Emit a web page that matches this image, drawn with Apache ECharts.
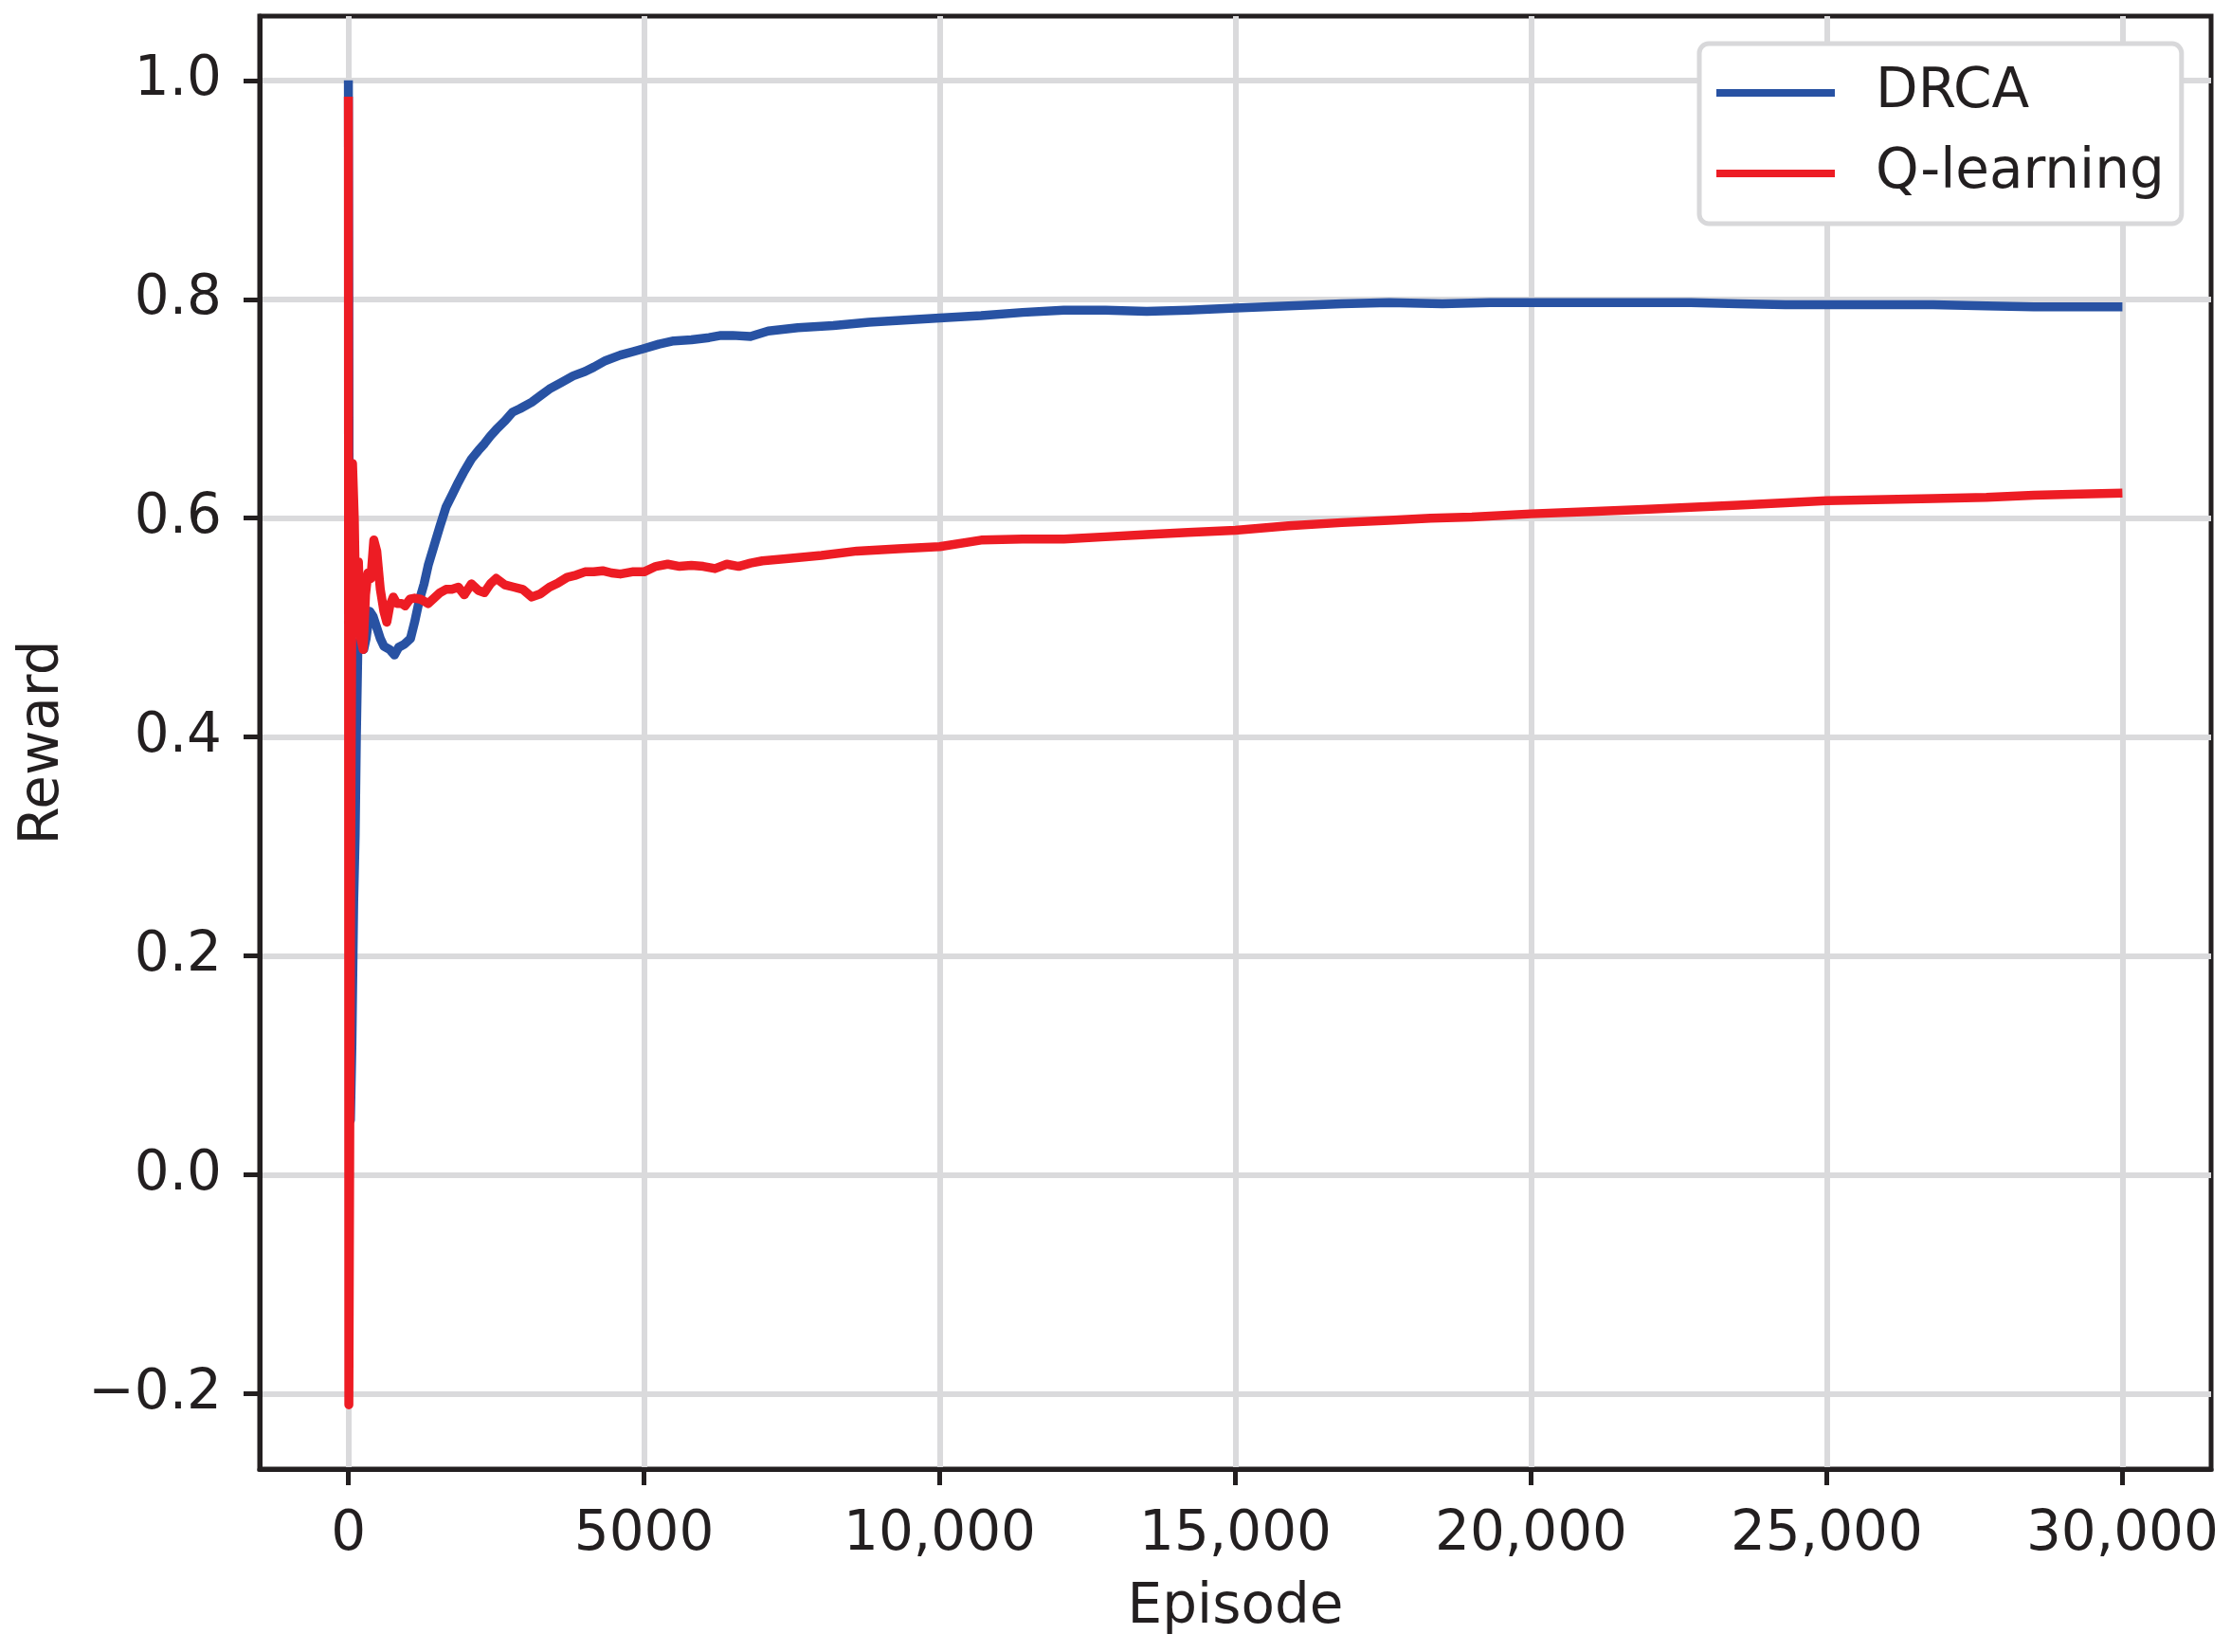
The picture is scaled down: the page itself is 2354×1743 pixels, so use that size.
<!DOCTYPE html>
<html>
<head>
<meta charset="utf-8">
<script src="https://cdn.jsdelivr.net/npm/echarts/dist/echarts.min.js"></script>
<style>
  html, body { margin: 0; padding: 0; background: #fff; }
  #chart { width: 2354px; height: 1743px; }
</style>
</head>
<body>
<div id="chart"></div>
<script>
  // DRCA curve
  var drcaEpisodes = [0, 15, 35, 60, 90, 115, 135, 160, 200, 260, 300, 360, 420, 480, 540, 600, 700, 780, 850, 950,
    1050, 1120, 1200, 1280, 1350, 1450, 1550, 1650, 1760, 1860, 1960, 2080, 2200, 2300, 2400, 2500, 2650, 2780, 2900,
    3100, 3250, 3400, 3600, 3800, 4000, 4150, 4350, 4600, 4800, 5000, 5250, 5500, 5800, 6100, 6300, 6500, 6800, 7100,
    7600, 8200, 8800, 9400, 10000, 10700, 11400, 12100, 12800, 13500, 14200, 15000, 15900, 16800, 17600, 18500, 19300,
    20000, 21000, 22000, 22700, 23500, 24300, 25000, 26000, 26800, 27700, 28500, 29300, 30000];
  var drcaReward = [1.0, 0.55, 0.05, 0.12, 0.25, 0.31, 0.40, 0.48, 0.49, 0.48, 0.49, 0.515, 0.51, 0.50, 0.49, 0.483, 0.48, 0.475, 0.482, 0.485,
    0.49, 0.505, 0.525, 0.54, 0.557, 0.575, 0.593, 0.61, 0.622, 0.633, 0.643, 0.654, 0.662, 0.668, 0.675, 0.681, 0.689, 0.697, 0.700,
    0.706, 0.712, 0.718, 0.724, 0.730, 0.734, 0.738, 0.744, 0.749, 0.752, 0.755, 0.759, 0.762, 0.763, 0.765, 0.767, 0.767, 0.766, 0.771,
    0.774, 0.776, 0.779, 0.781, 0.783, 0.785, 0.788, 0.790, 0.790, 0.789, 0.790, 0.792, 0.794, 0.796, 0.797, 0.796, 0.797,
    0.797, 0.797, 0.797, 0.797, 0.796, 0.795, 0.795, 0.795, 0.795, 0.794, 0.793, 0.793, 0.793];

  // Q-learning curve
  var qlEpisodes = [0, 8, 40, 70, 100, 130, 170, 210, 250, 290, 330, 380, 430, 480, 540, 600, 650, 700, 760, 820, 900, 960,
    1040, 1120, 1220, 1350, 1450, 1550, 1650, 1750, 1860, 1960, 2080, 2200, 2300, 2400, 2500, 2650, 2800, 2950, 3100, 3250,
    3400, 3550, 3700, 3850, 4000, 4150, 4300, 4450, 4600, 4800, 5000, 5200, 5400, 5600, 5800, 6000, 6200, 6400, 6600, 6800,
    7000, 7400, 8000, 8600, 9300, 10000, 10700, 11400, 12100, 12800, 13500, 14200, 15000, 15900, 16800, 17600, 18300, 19000,
    20000, 21000, 21900, 22700, 23500, 24300, 25000, 26000, 26800, 27700, 28500, 29300, 30000];
  var qlReward = [0.985, -0.21, 0.30, 0.65, 0.60, 0.50, 0.56, 0.49, 0.48, 0.53, 0.55, 0.545, 0.58, 0.57, 0.535, 0.515, 0.505, 0.52, 0.528, 0.522, 0.522, 0.52,
    0.526, 0.527, 0.526, 0.522, 0.527, 0.532, 0.535, 0.535, 0.537, 0.53, 0.54, 0.534, 0.532, 0.54, 0.545, 0.539, 0.537, 0.535, 0.528, 0.531,
    0.537, 0.541, 0.546, 0.548, 0.551, 0.551, 0.552, 0.55, 0.549, 0.551, 0.551, 0.556, 0.558, 0.556, 0.557, 0.556, 0.554, 0.558, 0.556, 0.559,
    0.561, 0.563, 0.566, 0.570, 0.572, 0.574, 0.580, 0.581, 0.581, 0.583, 0.585, 0.587, 0.589, 0.593, 0.596, 0.598, 0.600, 0.601,
    0.604, 0.606, 0.608, 0.610, 0.612, 0.614, 0.616, 0.617, 0.618, 0.619, 0.621, 0.622, 0.623];

  var xTicks = [0, 5000, 10000, 15000, 20000, 25000, 30000];
  var yTicks = [-0.2, 0, 0.2, 0.4, 0.6, 0.8, 1.0];

  function pairs(xs, ys) {
    var out = [];
    for (var i = 0; i < xs.length; i++) out.push([xs[i], ys[i]]);
    return out;
  }

  var ink = '#231f20';
  var gridColor = '#dadadc';
  var font = 'DejaVu Sans';

  var chart = echarts.init(document.getElementById('chart'), null, { renderer: 'canvas' });

  var option = {
    animation: false,
    backgroundColor: '#ffffff',
    textStyle: { fontFamily: font },
    grid: {
      left: 274, top: 17, right: 21, bottom: 193,
      show: true, borderColor: ink, borderWidth: 5, backgroundColor: 'transparent'
    },
    legend: {
      orient: 'vertical',
      left: 1793, top: 46,
      icon: 'rect',
      itemWidth: 125, itemHeight: 8,
      itemGap: 27,
      padding: [23, 18, 24, 18],
      borderColor: '#d8d8da', borderWidth: 5, borderRadius: 10,
      backgroundColor: '#ffffff',
      textStyle: { fontFamily: font, fontSize: 58, color: ink, padding: [0, 0, 0, 38] },
      data: ['DRCA', 'Q-learning']
    },
    xAxis: {
      type: 'value',
      min: -1500, max: 31500,
      name: 'Episode', nameLocation: 'middle', nameGap: 118,
      nameTextStyle: { fontFamily: font, fontSize: 58, color: ink },
      axisLine: { show: true, onZero: false, lineStyle: { color: ink, width: 5 } },
      axisTick: { show: true, length: 17, lineStyle: { color: ink, width: 5 }, customValues: xTicks },
      axisLabel: {
        customValues: xTicks, margin: 41, fontFamily: font, fontSize: 58, color: ink,
        formatter: function (v) { return v < 10000 ? String(v) : v.toLocaleString('en-US'); }
      },
      splitLine: { show: true, lineStyle: { color: gridColor, width: 6 } }
    },
    yAxis: {
      type: 'value',
      min: -0.2687, max: 1.0587,
      name: 'Reward', nameLocation: 'middle', nameGap: 199, nameRotate: 90,
      nameTextStyle: { fontFamily: font, fontSize: 58, color: ink },
      axisLine: { show: true, onZero: false, lineStyle: { color: ink, width: 5 } },
      axisTick: { show: true, length: 17, lineStyle: { color: ink, width: 5 }, customValues: yTicks },
      axisLabel: {
        customValues: yTicks, margin: 40, fontFamily: font, fontSize: 58, color: ink,
        formatter: function (v) { return v.toFixed(1).replace('-', '\u2212'); }
      },
      splitLine: { show: true, lineStyle: { color: gridColor, width: 6 } }
    },
    series: [
      {
        name: 'DRCA', type: 'line', showSymbol: false, symbol: 'none',
        data: pairs(drcaEpisodes, drcaReward),
        itemStyle: { color: '#2852a3' },
        lineStyle: { color: '#2852a3', width: 9.5, join: 'round' }
      },
      {
        name: 'Q-learning', type: 'line', showSymbol: false, symbol: 'none',
        data: pairs(qlEpisodes, qlReward),
        itemStyle: { color: '#ed1c24' },
        lineStyle: { color: '#ed1c24', width: 9.5, join: 'round' }
      }
    ]
  };

  chart.setOption(option);
</script>
</body>
</html>
